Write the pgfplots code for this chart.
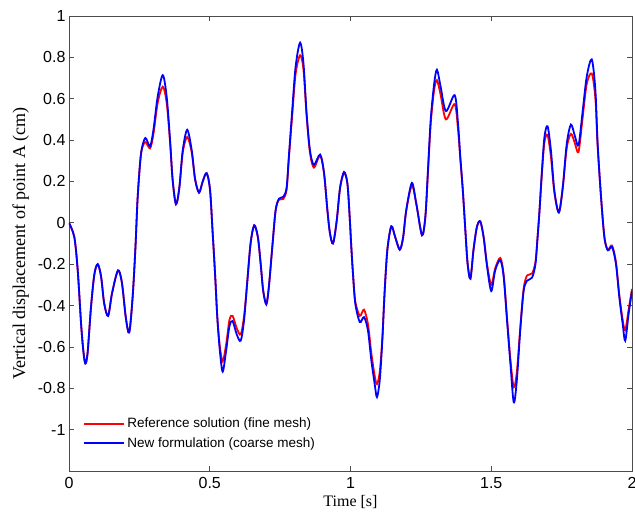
\documentclass[border=0pt]{standalone}
\usepackage{fontspec}
\setmainfont{Liberation Sans}
\newfontfamily\timesf{Liberation Serif}
\usepackage{pgfplots}
\pgfplotsset{compat=1.18}
\usepackage{pgfplotstable}
\pgfplotstableread{
t v
0 0
0.019 -0.07
0.031 -0.23
0.043 -0.49
0.051 -0.62
0.058 -0.68
0.066 -0.63
0.078 -0.41
0.090 -0.25
0.102 -0.20
0.114 -0.26
0.125 -0.39
0.139 -0.45
0.153 -0.34
0.174 -0.23
0.188 -0.29
0.202 -0.46
0.214 -0.53
0.226 -0.36
0.236 -0.12
0.244 0.125
0.256 0.335
0.271 0.39
0.288 0.36
0.300 0.43
0.315 0.58
0.333 0.658
0.347 0.58
0.359 0.39
0.368 0.21
0.380 0.09
0.392 0.17
0.404 0.34
0.420 0.415
0.436 0.34
0.448 0.21
0.462 0.146
0.475 0.20
0.489 0.24
0.501 0.16
0.510 -0.04
0.519 -0.25
0.527 -0.46
0.536 -0.60
0.546 -0.67
0.558 -0.59
0.570 -0.47
0.581 -0.45
0.596 -0.51
0.610 -0.54
0.622 -0.45
0.633 -0.29
0.645 -0.10
0.658 -0.012
0.671 -0.07
0.681 -0.20
0.690 -0.33
0.701 -0.39
0.710 -0.31
0.722 -0.12
0.734 0.06
0.746 0.112
0.761 0.115
0.773 0.16
0.781 0.31
0.793 0.52
0.805 0.72
0.821 0.81
0.833 0.74
0.844 0.52
0.856 0.34
0.870 0.267
0.892 0.325
0.906 0.24
0.918 0.06
0.927 -0.05
0.938 -0.10
0.951 0.01
0.963 0.17
0.977 0.24
0.989 0.19
0.997 0.03
1.003 -0.12
1.009 -0.25
1.017 -0.38
1.033 -0.45
1.048 -0.42
1.062 -0.49
1.074 -0.63
1.086 -0.74
1.094 -0.78
1.104 -0.72
1.113 -0.56
1.121 -0.34
1.131 -0.13
1.145 -0.017
1.159 -0.07
1.175 -0.13
1.187 -0.07
1.198 0.06
1.218 0.18
1.234 0.09
1.254 -0.06
1.266 0.03
1.275 0.24
1.285 0.48
1.297 0.64
1.307 0.69
1.320 0.62
1.339 0.50
1.370 0.574
1.382 0.45
1.390 0.31
1.399 0.157
1.408 -0.036
1.416 -0.197
1.426 -0.27
1.437 -0.13
1.449 -0.02
1.461 0.007
1.473 -0.07
1.485 -0.20
1.500 -0.30
1.514 -0.22
1.532 -0.17
1.544 -0.25
1.556 -0.46
1.568 -0.66
1.580 -0.795
1.591 -0.72
1.603 -0.51
1.615 -0.32
1.627 -0.255
1.645 -0.245
1.657 -0.19
1.664 -0.08
1.671 0.05
1.680 0.24
1.689 0.39
1.700 0.424
1.712 0.32
1.724 0.15
1.740 0.05
1.754 0.17
1.768 0.36
1.783 0.43
1.797 0.385
1.810 0.343
1.824 0.50
1.839 0.67
1.857 0.722
1.870 0.60
1.878 0.37
1.890 0.125
1.902 -0.07
1.914 -0.13
1.929 -0.11
1.943 -0.19
1.955 -0.35
1.967 -0.47
1.976 -0.52
1.988 -0.42
2.000 -0.32
}\refdata
\pgfplotstableread{
t v
0 0
0.019 -0.07
0.031 -0.23
0.043 -0.49
0.051 -0.62
0.058 -0.68
0.066 -0.63
0.078 -0.41
0.090 -0.25
0.102 -0.20
0.114 -0.26
0.125 -0.39
0.139 -0.45
0.153 -0.34
0.174 -0.23
0.188 -0.29
0.202 -0.46
0.214 -0.53
0.226 -0.36
0.236 -0.12
0.244 0.125
0.256 0.335
0.271 0.41
0.288 0.37
0.300 0.45
0.315 0.61
0.333 0.714
0.347 0.61
0.359 0.40
0.368 0.21
0.380 0.09
0.392 0.17
0.404 0.35
0.420 0.45
0.436 0.35
0.448 0.21
0.462 0.146
0.475 0.20
0.489 0.24
0.501 0.16
0.510 -0.04
0.519 -0.25
0.527 -0.46
0.536 -0.62
0.546 -0.72
0.558 -0.62
0.570 -0.50
0.581 -0.475
0.596 -0.54
0.610 -0.57
0.622 -0.47
0.633 -0.29
0.645 -0.10
0.658 -0.012
0.671 -0.07
0.681 -0.20
0.690 -0.33
0.701 -0.395
0.710 -0.31
0.722 -0.12
0.734 0.06
0.746 0.117
0.761 0.125
0.773 0.17
0.781 0.32
0.793 0.545
0.805 0.755
0.821 0.871
0.833 0.77
0.844 0.53
0.856 0.35
0.870 0.28
0.892 0.33
0.906 0.24
0.918 0.06
0.927 -0.05
0.938 -0.10
0.951 0.01
0.963 0.17
0.977 0.246
0.989 0.19
0.997 0.03
1.003 -0.12
1.009 -0.25
1.017 -0.39
1.033 -0.48
1.048 -0.456
1.062 -0.52
1.074 -0.665
1.086 -0.78
1.094 -0.843
1.104 -0.76
1.113 -0.57
1.121 -0.34
1.131 -0.13
1.145 -0.017
1.159 -0.07
1.175 -0.13
1.187 -0.07
1.198 0.06
1.218 0.193
1.234 0.09
1.254 -0.06
1.266 0.03
1.275 0.25
1.285 0.50
1.297 0.67
1.307 0.74
1.320 0.66
1.339 0.54
1.370 0.617
1.382 0.48
1.390 0.32
1.399 0.157
1.408 -0.036
1.416 -0.197
1.426 -0.27
1.437 -0.13
1.449 -0.02
1.461 0.007
1.473 -0.07
1.485 -0.21
1.500 -0.33
1.514 -0.23
1.532 -0.18
1.544 -0.26
1.556 -0.47
1.568 -0.68
1.580 -0.868
1.591 -0.76
1.603 -0.52
1.615 -0.33
1.627 -0.28
1.645 -0.265
1.657 -0.20
1.664 -0.08
1.671 0.05
1.680 0.25
1.689 0.415
1.700 0.467
1.712 0.35
1.724 0.157
1.740 0.05
1.754 0.17
1.768 0.38
1.783 0.475
1.797 0.42
1.810 0.375
1.824 0.53
1.839 0.705
1.857 0.79
1.870 0.64
1.878 0.38
1.890 0.125
1.902 -0.07
1.914 -0.133
1.929 -0.117
1.943 -0.198
1.955 -0.36
1.967 -0.49
1.976 -0.57
1.988 -0.44
2.000 -0.33
}\newdata
\begin{document}
\begin{tikzpicture}
\begin{axis}[
  scale only axis,
  width=563pt, height=455pt,
  xmin=0, xmax=2, ymin=-1.2, ymax=1,
  xtick={0,0.5,1,1.5,2},
  ytick={-1,-0.8,-0.6,-0.4,-0.2,0,0.2,0.4,0.6,0.8,1},
  yticklabels={-1,-0.8,-0.6,-0.4,-0.2,0,0.2,0.4,0.6,0.8,1},
  xticklabels={0,0.5,1,1.5,2},
  tick align=inside,
  tick pos=both,
  major tick length=5pt,
  axis line style={black!70, line width=0.8pt},
  every tick/.style={black!70, line width=0.8pt},
  tick label style={font=\fontsize{16}{16}\selectfont, black},
  xticklabel style={yshift=-3pt},
  /pgf/number format/assume math mode=true,
  xlabel={\timesf Time [s]},
  ylabel={\timesf Vertical displacement of point A (cm)},
  xlabel style={font=\fontsize{16}{16}\selectfont, yshift=0pt},
  ylabel style={font=\fontsize{18}{18}\selectfont, yshift=2pt},
  legend style={at={(0.02,0.04)}, anchor=south west, draw=none, fill=none,
    font=\fontsize{13.5}{13.5}\selectfont, row sep=4pt},
  legend cell align=left,
  legend image code/.code={\draw[#1, line width=1.8pt] (0pt,0pt) -- (40pt,0pt);},
]
\addplot[red, line width=1.8pt, smooth, tension=0.5] table[x=t, y=v] {\refdata};
\addlegendentry{Reference solution (fine mesh)}
\addplot[blue, line width=1.8pt, smooth, tension=0.5] table[x=t, y=v] {\newdata};
\addlegendentry{New formulation (coarse mesh)}
\end{axis}
\pgfresetboundingbox
\path ([shift={(-69pt,-42pt)}]current axis.south west) rectangle ([shift={(3pt,16pt)}]current axis.north east);
\end{tikzpicture}
\end{document}
